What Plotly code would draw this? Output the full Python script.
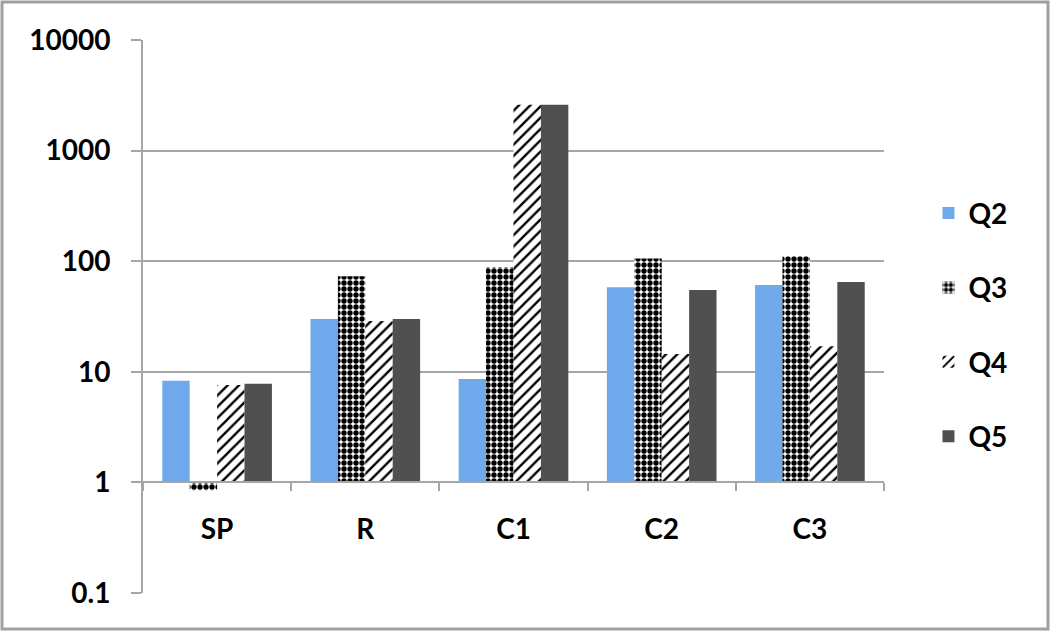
import plotly.graph_objects as go
import math

categories = ["SP", "R", "C1", "C2", "C3"]
q2 = [8.3, 30, 8.6, 58, 61]
q3 = [0.85, 73, 88, 106, 111]
q4 = [7.6, 28.8, 2600, 14.5, 17]
q5 = [7.8, 30, 2600, 55, 65]
y_ticks = [0.1, 1, 10, 100, 1000, 10000]
y_tick_text = ["0.1", "1", "10", "100", "1000", "10000"]
baseline = 1.0
y_min, y_max = 0.1, 10000

FONT = dict(family="Lato", size=28, color="#000000", weight="bold")
GRID = "#a6a6a6"

def bar(name, vals, marker):
    return go.Bar(
        name=name,
        x=categories,
        y=[v - baseline for v in vals],
        base=[baseline] * len(vals),
        marker=marker,
        legendgroup=name,
    )

fig = go.Figure()
fig.add_trace(bar("Q2", q2, dict(color="#70a8ec", line=dict(width=0))))
fig.add_trace(bar("Q3", q3, dict(color="#ffffff", line=dict(width=0),
                                pattern=dict(shape=".", fgcolor="#000000", bgcolor="#ffffff",
                                             size=6, solidity=0.62, fillmode="replace"))))
fig.add_trace(bar("Q4", q4, dict(color="#ffffff", line=dict(width=0),
                                pattern=dict(shape="/", fgcolor="#000000", bgcolor="#ffffff",
                                             size=8, solidity=0.3, fillmode="replace"))))
fig.add_trace(bar("Q5", q5, dict(color="#505050", line=dict(width=0))))

lo, hi = math.log10(y_min), math.log10(y_max)
base_frac = (math.log10(baseline) - lo) / (hi - lo)

fig.update_layout(
    width=1050, height=632,
    margin=dict(l=143, r=166, t=40, b=39),
    paper_bgcolor="#ffffff", plot_bgcolor="#ffffff",
    barmode="group", bargap=0.26, bargroupgap=0,
    font=FONT,
    showlegend=True,
    legend=dict(x=1.06, xanchor="left", y=0.485, yanchor="middle",
                font=FONT, tracegroupgap=35, bgcolor="rgba(0,0,0,0)"),
    xaxis=dict(
        anchor="free", position=base_frac,
        showline=True, linecolor=GRID, linewidth=2,
        ticks="outside", ticklen=8, tickwidth=2, tickcolor=GRID,
        tickson="boundaries", showgrid=False, zeroline=False,
        ticklabelstandoff=22, tickfont=FONT,
    ),
    yaxis=dict(
        type="log", range=[lo, hi],
        tickvals=y_ticks, ticktext=y_tick_text,
        showline=True, linecolor=GRID, linewidth=2,
        ticks="outside", ticklen=10, tickwidth=2, tickcolor=GRID,
        showgrid=True, gridcolor=GRID, gridwidth=2, zeroline=False,
        ticklabelstandoff=15, tickfont=FONT,
    ),
    shapes=[dict(type="rect", xref="paper", yref="paper",
                 x0=(2 - 143) / 741, x1=(1048 - 143) / 741,
                 y0=(593 - 629) / 553, y1=(593 - 2) / 553,
                 line=dict(color="#a0a0a0", width=3), fillcolor="rgba(0,0,0,0)", layer="below")],
)

fig.write_html("out.html", config={"displayModeBar": False},
               post_script="document.body.style.margin='0';document.body.style.overflow='hidden';")
